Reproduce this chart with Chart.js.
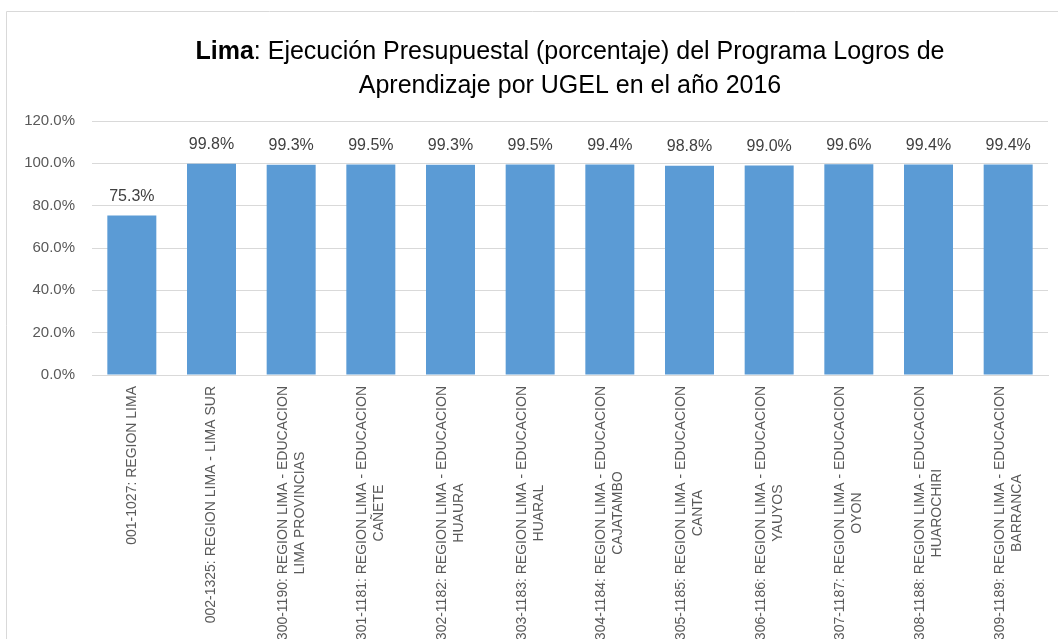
<!DOCTYPE html>
<html>
<head>
<meta charset="utf-8">
<script src="https://cdn.jsdelivr.net/npm/chart.js@4/dist/chart.umd.min.js"></script>
<style>
  html, body { margin: 0; padding: 0; background: #ffffff; }
  #wrap { width: 1058px; height: 639px; position: relative; }
</style>
</head>
<body>
<div id="wrap"><canvas id="c" width="1058" height="639"></canvas></div>
<script>
// ---- Data ----
const categories = [
  ["001-1027: REGION LIMA"],
  ["002-1325: REGION LIMA - LIMA SUR"],
  ["300-1190: REGION LIMA - EDUCACION", "LIMA PROVINCIAS"],
  ["301-1181: REGION LIMA - EDUCACION", "CAÑETE"],
  ["302-1182: REGION LIMA - EDUCACION", "HUAURA"],
  ["303-1183: REGION LIMA - EDUCACION", "HUARAL"],
  ["304-1184: REGION LIMA - EDUCACION", "CAJATAMBO"],
  ["305-1185: REGION LIMA - EDUCACION", "CANTA"],
  ["306-1186: REGION LIMA - EDUCACION", "YAUYOS"],
  ["307-1187: REGION LIMA - EDUCACION", "OYON"],
  ["308-1188: REGION LIMA - EDUCACION", "HUAROCHIRI"],
  ["309-1189: REGION LIMA - EDUCACION", "BARRANCA"]
];
const values = [75.3, 99.8, 99.3, 99.5, 99.3, 99.5, 99.4, 98.8, 99.0, 99.6, 99.4, 99.4];
const yTickValues = [0, 20, 40, 60, 80, 100, 120];
const titleBold = "Lima";
const titleLine1Rest = ": Ejecución Presupuestal (porcentaje) del Programa Logros de";
const titleLine2 = "Aprendizaje por UGEL en el año 2016";

// ---- Plugins ----
const framePlugin = {
  id: 'frame',
  beforeDraw(chart) {
    const ctx = chart.ctx;
    ctx.save();
    ctx.strokeStyle = '#d9d9d9';
    ctx.lineWidth = 1;
    ctx.beginPath();
    ctx.moveTo(6.5, 640);
    ctx.lineTo(6.5, 11.5);
    ctx.lineTo(1060, 11.5);
    ctx.stroke();
    ctx.restore();
  }
};

const titlePlugin = {
  id: 'mixedTitle',
  afterDraw(chart) {
    const ctx = chart.ctx;
    const ca = chart.chartArea;
    const cx = (ca.left + ca.right) / 2;
    const size = 25;
    const fam = '"Liberation Sans", Arial, sans-serif';
    ctx.save();
    ctx.fillStyle = '#000000';
    ctx.textBaseline = 'middle';
    ctx.font = 'bold ' + size + 'px ' + fam;
    const wb = ctx.measureText(titleBold).width;
    ctx.font = size + 'px ' + fam;
    const wr = ctx.measureText(titleLine1Rest).width;
    const start = cx - (wb + wr) / 2;
    ctx.textAlign = 'left';
    ctx.font = 'bold ' + size + 'px ' + fam;
    ctx.fillText(titleBold, start, 52);
    ctx.font = size + 'px ' + fam;
    ctx.fillText(titleLine1Rest, start + wb, 52);
    ctx.textAlign = 'center';
    ctx.fillText(titleLine2, cx, 86);
    ctx.restore();
  }
};

const valueLabelPlugin = {
  id: 'valueLabels',
  afterDatasetsDraw(chart) {
    const ctx = chart.ctx;
    const meta = chart.getDatasetMeta(0);
    ctx.save();
    ctx.font = '16px "Liberation Sans", Arial, sans-serif';
    ctx.fillStyle = '#404040';
    ctx.textAlign = 'center';
    ctx.textBaseline = 'middle';
    meta.data.forEach((bar, i) => {
      ctx.fillText(values[i].toFixed(1) + '%', bar.x, bar.y - 19);
    });
    ctx.restore();
  }
};

const catLabelPlugin = {
  id: 'catLabels',
  afterDraw(chart) {
    const ctx = chart.ctx;
    const xs = chart.scales.x;
    const top = xs.top + 11;
    const lh = 17;
    ctx.save();
    ctx.font = '14px "Liberation Sans", Arial, sans-serif';
    ctx.fillStyle = '#595959';
    ctx.textAlign = 'center';
    ctx.textBaseline = 'middle';
    categories.forEach((lines, i) => {
      const x = xs.getPixelForValue(i);
      let w = 0;
      lines.forEach(l => { w = Math.max(w, ctx.measureText(l).width); });
      ctx.save();
      ctx.translate(x, top);
      ctx.rotate(-Math.PI / 2);
      lines.forEach((l, j) => {
        const off = (j - (lines.length - 1) / 2) * lh;
        ctx.fillText(l, -w / 2, off);
      });
      ctx.restore();
    });
    ctx.restore();
  }
};

// ---- Chart ----
new Chart(document.getElementById('c'), {
  type: 'bar',
  data: {
    labels: categories,
    datasets: [{
      data: values,
      backgroundColor: '#5b9bd5',
      borderWidth: 0,
      barPercentage: 0.615,
      categoryPercentage: 1.0
    }]
  },
  options: {
    responsive: false,
    animation: false,
    devicePixelRatio: 1,
    layout: { padding: { top: 121, right: 10, left: 0, bottom: 0 } },
    plugins: {
      legend: { display: false },
      tooltip: { enabled: false },
      title: { display: false }
    },
    scales: {
      x: {
        grid: { display: false, drawTicks: false },
        border: { display: true, color: '#d9d9d9', width: 1 },
        ticks: { display: false },
        afterFit(s) { s.height = 264; }
      },
      y: {
        min: 0,
        max: 120,
        afterBuildTicks(s) { s.ticks = yTickValues.map(v => ({ value: v })); },
        grid: { color: '#d9d9d9', drawTicks: false, lineWidth: 1 },
        border: { display: false },
        ticks: {
          padding: 17,
          color: '#595959',
          font: { family: '"Liberation Sans", Arial, sans-serif', size: 15 },
          callback: v => Number(v).toFixed(1) + '%'
        },
        afterFit(s) { s.width = 92; }
      }
    }
  },
  plugins: [framePlugin, valueLabelPlugin, catLabelPlugin, titlePlugin]
});
</script>
</body>
</html>
